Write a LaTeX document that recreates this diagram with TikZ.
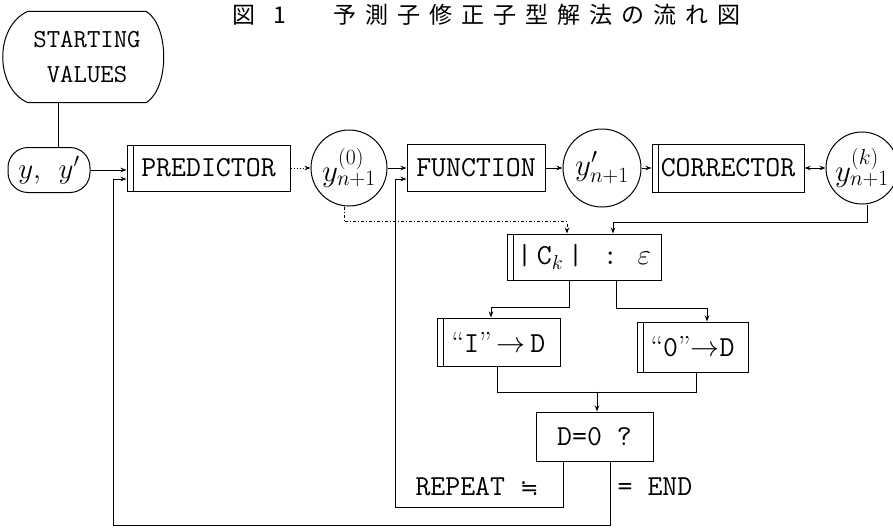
\RequirePackage{fix-cm}
\documentclass[tikz,border=0pt]{standalone}
\usepackage{fontspec}
\newfontfamily\cjk{Noto Sans CJK JP}
\newfontfamily\cjkls[LetterSpace=39]{Noto Sans CJK JP}
\newfontfamily\djv{DejaVu Sans}
\usetikzlibrary{arrows.meta}
\begin{document}
\begin{tikzpicture}[x=1pt,y=-1pt,line width=1pt,
  >={Stealth[length=6pt,width=4.5pt]},
  box/.style={draw,rectangle,inner sep=0pt,font=\fontsize{29}{32}\selectfont\ttfamily},
  dbl/.style={path picture={\draw[line width=1pt] ([xshift=6pt]path picture bounding box.north west) -- ([xshift=6pt]path picture bounding box.south west);}},
  circ/.style={draw,circle,inner sep=0pt,font=\fontsize{31}{34}\selectfont},
  lab/.style={font=\fontsize{29}{32}\selectfont\ttfamily}]
\path[fill=white,use as bounding box] (0,0) rectangle (893,527);

% title
\node[font=\fontsize{23}{28}\selectfont\cjk] (t1) at (259,15) {図\hspace{18pt}1};
\node[font=\fontsize{23}{28}\selectfont\cjkls] (t2) at (537,15) {予測子修正子型解法の流れ図};

% start
\node[minimum width=118,minimum height=90,align=center,font=\fontsize{26}{35}\selectfont\ttfamily] (start) at (87,57) {STARTING\\VALUES};
\draw (start.north west) -- (start.north east) .. controls +(23,15) and +(23,-15) .. (start.south east)
  -- (start.south west) .. controls +(-33,-15) and +(-33,15) .. (start.north west);

\node[draw,rounded corners=20,minimum width=82,minimum height=45,inner sep=0pt,font=\fontsize{29}{32}\selectfont] (yy) at (49,170) {$y,\;\, y'$};
\draw ([xshift=9pt]yy.north) -- ([xshift=9pt]yy.north |- start.south);

% top row
\node[box,dbl,minimum width=163,minimum height=46] (pred) at (208.5,168) {PREDICTOR};
\node[circ,minimum size=76] (c0) at (349,168) {$y^{(0)}_{n+1}$};
\node[box,minimum width=138,minimum height=47] (func) at (476,168) {FUNCTION};
\node[circ,minimum size=78] (c1) at (602,168) {$y'_{n+1}$};
\node[box,dbl,minimum width=152,minimum height=48] (corr) at (728,168) {CORRECTOR};
\node[circ,minimum size=72] (ck) at (862,168) {$y^{(k)}_{n+1}$};

\draw[->] (yy.east) -- (yy.east -| pred.west);
\draw[->,dotted] (pred.east) -- (c0.west);
\draw[->] (c0.east) -- (func.west);
\draw[->] (func.east) -- (c1.west);
\draw[->] (c1.east) -- (corr.west);
\draw[<->] (corr.east) -- (ck.west);

% middle
\node[box,dbl,minimum width=154,minimum height=46] (cbox) at (584,257) {|\,C$_{k}$\,|\, : $\varepsilon$};
\node[box,dbl,minimum width=123,minimum height=48] (ibox) at (498.5,342) {{\rmfamily“}I{\rmfamily”}\,$\rightarrow$\,D};
\node[box,dbl,minimum width=111,minimum height=50] (obox) at (692.5,347) {{\rmfamily“}0{\rmfamily”}$\rightarrow$D};
\node[box,minimum width=117,minimum height=49] (dz) at (594.5,436.5) {D=0 ?};
\node[lab] (rep) at (477,487) {REPEAT {\djv\fontsize{22}{26}\selectfont ≒}};
\node[lab] (end) at (655,487) {= END};

\draw[->,dash dot] ([xshift=-5pt]c0.south) -- ++(0,15) -| ([xshift=-17pt]cbox.north);
\draw[->] ([xshift=5pt]ck.south) -- ++(0,18) -| ([xshift=29pt]cbox.north);
\draw[->] ([xshift=-15pt]cbox.south) -- ++(0,27) -| ([xshift=-7.5pt]ibox.north);
\draw[->] ([xshift=32pt]cbox.south) -- ++(0,28) -| ([xshift=14.5pt]obox.north);
\draw ([xshift=-1.5pt]ibox.south) -- ++(0,26) -| ([xshift=3.5pt]obox.south);
\draw[->] ([xshift=2.5pt,yshift=20pt]dz.north) -- ([xshift=2.5pt]dz.north);
\draw[->] ([xshift=-31.5pt]dz.south) |- ++(-168,46) |- ([yshift=-11pt]func.west);
\draw[->] ([xshift=15.5pt]dz.south) |- ++(-497,64) |- ([yshift=-11pt]pred.west);
\end{tikzpicture}
\end{document}
